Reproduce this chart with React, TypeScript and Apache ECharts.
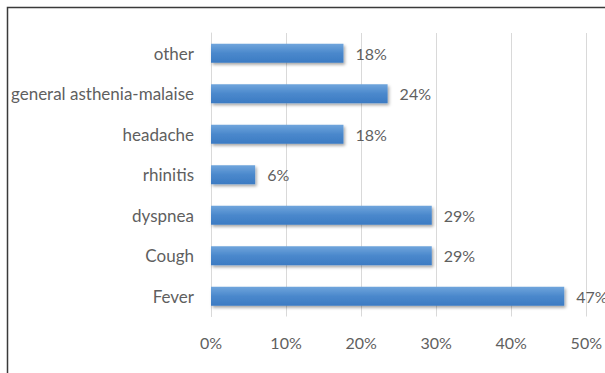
import React, { useEffect, useRef } from "react";
import * as echarts from "echarts";

// Symptoms, listed bottom-to-top as drawn on the category axis
const categories = [
  "Fever",
  "Cough",
  "dyspnea",
  "rhinitis",
  "headache",
  "general asthenia-malaise",
  "other",
];

// Share of patients with each symptom (fraction of 17 patients)
const shares = [8 / 17, 5 / 17, 5 / 17, 1 / 17, 3 / 17, 4 / 17, 3 / 17];

// Percent tick range of the value axis
const axisMin = 0;
const axisMax = 0.5;
const axisStep = 0.1;

const pct = (v: number) => `${Math.round(v * 100)}%`;

export default function App() {
  const ref = useRef<HTMLDivElement>(null);

  useEffect(() => {
    if (!ref.current) return;
    const chart = echarts.init(ref.current, null, { renderer: "svg" });
    const font = "Lato, 'Open Sans', sans-serif";
    const textColor = "#5f5f5f";

    chart.setOption({
      animation: false,
      backgroundColor: "#ffffff",
      grid: { left: 211, right: 18, top: 33, bottom: 56.5, containLabel: false },
      graphic: [
        {
          type: "rect",
          shape: { x: 7.5, y: 7.5, width: 800, height: 600 },
          style: { fill: "none", stroke: "#3a3a3a", lineWidth: 1.5 },
          silent: true,
        },
      ],
      xAxis: {
        type: "value",
        min: axisMin,
        max: axisMax,
        interval: axisStep,
        axisLine: { show: false },
        axisTick: { show: false },
        splitLine: { show: true, lineStyle: { color: "#d9d9d9", width: 1 } },
        axisLabel: {
          formatter: (v: number) => pct(v),
          color: textColor,
          fontFamily: font,
          fontSize: 16,
          margin: 18,
        },
      },
      yAxis: {
        type: "category",
        data: categories,
        axisLine: { show: true, lineStyle: { color: "#d9d9d9", width: 1 } },
        axisTick: { show: false },
        axisLabel: {
          color: textColor,
          fontFamily: font,
          fontSize: 17,
          margin: 17,
        },
      },
      series: [
        {
          type: "bar",
          data: shares,
          barCategoryGap: "53%",
          itemStyle: {
            color: new echarts.graphic.LinearGradient(0, 0, 0, 1, [
              { offset: 0, color: "#70a5dc" },
              { offset: 0.5, color: "#4a88cc" },
              { offset: 1, color: "#3c7bc3" },
            ]),
            shadowColor: "rgba(0,0,0,0.35)",
            shadowBlur: 3,
            shadowOffsetX: 1.5,
            shadowOffsetY: 2,
          },
          label: {
            show: true,
            position: "right",
            distance: 12,
            formatter: (p: { value: number }) => pct(p.value),
            color: textColor,
            fontFamily: font,
            fontSize: 16,
          },
        },
      ],
    });

    return () => chart.dispose();
  }, []);

  return (
    <div
      ref={ref}
      style={{ position: "fixed", left: 0, top: 0, width: 605, height: 373 }}
    />
  );
}
